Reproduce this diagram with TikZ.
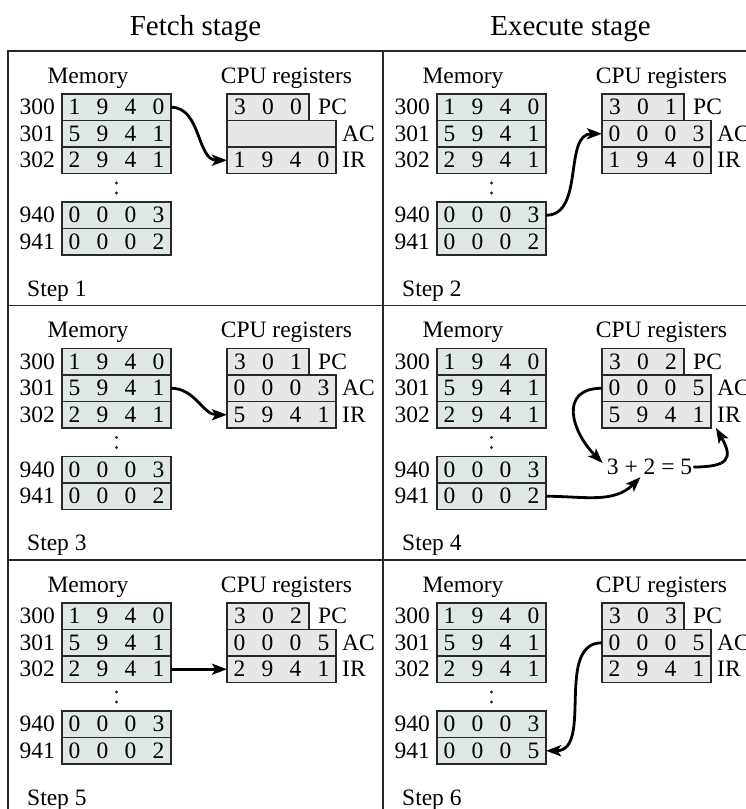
\documentclass[tikz,border=0pt]{standalone}
\usepackage{fontspec}
\setmainfont{Liberation Serif}
\usetikzlibrary{positioning,arrows.meta}

\definecolor{memfill}{RGB}{224,231,231}
\definecolor{regfill}{RGB}{231,231,231}
\definecolor{boxline}{RGB}{40,40,40}

\newcommand{\dgap}{\hspace{0.69em}}

% one panel: name, x, y, PC, AC, IR, word 941, step
\newcommand{\cpupanel}[8]{
\begin{scope}[shift={(#2,#3)}]
  \node[lbl] (#1mem) at (80,32) {Memory};
  \node[lbl] (#1cpu) at (278.5,32) {CPU registers};

  \node[memcell] (#1m300) at (108.5,56.25) {1\dgap9\dgap4\dgap0};
  \node[memcell, below=0pt of #1m300] (#1m301) {5\dgap9\dgap4\dgap1};
  \node[memcell, below=0pt of #1m301] (#1m302) {2\dgap9\dgap4\dgap1};
  \node[memcell] (#1m940) at (108.5,164.25) {0\dgap0\dgap0\dgap3};
  \node[memcell, below=0pt of #1m940] (#1m941) {#7};
  \foreach \a in {300,301,302,940,941}
    \node[addr, left=7pt of #1m\a] (#1a\a) {\a};
  \fill[boxline] (108.5,132) circle (1.6pt) (108.5,142) circle (1.6pt);

  \node[regcell, minimum width=82pt] (#1pc) at (260,56.25) {#4};
  \node[regcell, anchor=north west] (#1ac) at (#1pc.south west) {#5};
  \node[regcell, below=0pt of #1ac] (#1ir) {#6};
  \node[addr, right=9pt of #1pc] (#1pcl) {PC};
  \node[addr, right=6pt of #1ac] (#1acl) {AC};
  \node[addr, right=6pt of #1ir] (#1irl) {IR};

  \node[lbl, anchor=base west] (#1step) at (19,245) {Step #8};
\end{scope}
}

\begin{document}
\begin{tikzpicture}[x=1pt, y=-1pt,
  lbl/.style={anchor=base, inner sep=0pt, font=\fontsize{23.5}{28}\selectfont},
  addr/.style={inner sep=0pt, font=\fontsize{23.5}{28}\selectfont},
  memcell/.style={draw=boxline, line width=1.4pt, fill=memfill, minimum width=109pt,
    minimum height=26.5pt, inner sep=0pt, outer sep=0pt, font=\fontsize{23.5}{28}\selectfont},
  regcell/.style={memcell, fill=regfill},
  title/.style={anchor=base, inner sep=0pt, font=\fontsize{29}{34}\selectfont},
  frame/.style={line width=1.7pt, draw=boxline},
  flow/.style={line width=2.8pt, -{Stealth[length=15pt,width=11pt,inset=3.5pt]}}]
\useasboundingbox (0,0) rectangle (746,809);

\node[title] (fetch) at (195.5,35) {Fetch stage};
\node[title] (exec) at (570.5,35) {Execute stage};

\draw[frame] (8,51) rectangle (758,814.5);
\draw[frame] (383,51) -- (383,814.5);
\draw[frame] (8,305.5) -- (758,305.5) (8,560) -- (758,560);

\cpupanel{p1}{8}{51}{3\dgap0\dgap0}{}{1\dgap9\dgap4\dgap0}{0\dgap0\dgap0\dgap2}{1}
\cpupanel{p2}{383}{51}{3\dgap0\dgap1}{0\dgap0\dgap0\dgap3}{1\dgap9\dgap4\dgap0}{0\dgap0\dgap0\dgap2}{2}
\cpupanel{p3}{8}{305.5}{3\dgap0\dgap1}{0\dgap0\dgap0\dgap3}{5\dgap9\dgap4\dgap1}{0\dgap0\dgap0\dgap2}{3}
\cpupanel{p4}{383}{305.5}{3\dgap0\dgap2}{0\dgap0\dgap0\dgap5}{5\dgap9\dgap4\dgap1}{0\dgap0\dgap0\dgap2}{4}
\cpupanel{p5}{8}{560}{3\dgap0\dgap2}{0\dgap0\dgap0\dgap5}{2\dgap9\dgap4\dgap1}{0\dgap0\dgap0\dgap2}{5}
\cpupanel{p6}{383}{560}{3\dgap0\dgap3}{0\dgap0\dgap0\dgap5}{2\dgap9\dgap4\dgap1}{0\dgap0\dgap0\dgap5}{6}

\node[addr, inner sep=1pt] (sum) at (649.5,467) {3 + 2 = 5};

\draw[flow] (p1m300.east) to[out=0,in=180] (p1ir.west);
\draw[flow] (p2m940.east) to[out=0,in=180] (p2ac.west);
\draw[flow] (p3m301.east) to[out=0,in=180] (p3ir.west);
\draw[flow] (p4ac.west) to[out=180,in=135,looseness=1.5] ([xshift=-3pt,yshift=4pt]sum.west);
\draw[flow] (p4m941.east) to[out=0,in=225] ([xshift=-9pt,yshift=-1pt]sum.south);
\draw[flow] (sum.east) to[out=0,in=-60,looseness=2] ([xshift=5pt]p4ir.south east);
\draw[flow] (p5m302.east) -- (p5ir.west);
\draw[flow] (p6ac.west) to[out=180,in=0] (p6m941.east);

\end{tikzpicture}
\end{document}
